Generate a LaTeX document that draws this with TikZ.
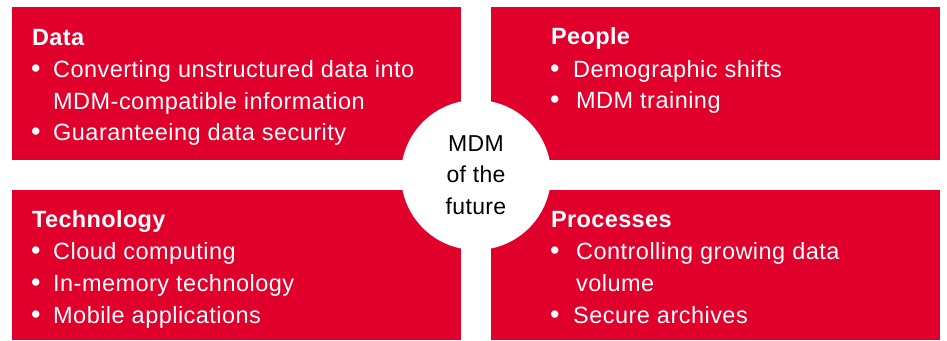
\documentclass[tikz,border=0pt]{standalone}
\usepackage{fontspec}
\setmainfont{Liberation Sans}
\definecolor{mdmred}{RGB}{224,0,43}

\tikzset{
  quad/.style={fill=mdmred},
  hub/.style={circle, fill=white, minimum size=150pt, inner sep=0pt,
    align=center, font=\fontsize{23}{31.5}\selectfont\addfontfeature{LetterSpace=1.5}},
  head/.style={anchor=base west, inner sep=0pt, text=white,
    font=\fontsize{23.5}{26}\selectfont\bfseries\addfontfeature{LetterSpace=1.5}},
  entry/.style={anchor=base west, inner sep=0pt, text=white,
    font=\fontsize{23.5}{26}\selectfont\addfontfeature{LetterSpace=2}},
  dot/.style={anchor=base west, inner sep=0pt, text=white,
    font=\fontsize{27}{30}\selectfont}
}

\begin{document}
\begin{tikzpicture}[x=1pt,y=-1pt]

    \useasboundingbox (0,0) rectangle (947,340);

    % Quadrants
    \fill[quad] (12,7) rectangle (461,160);
    \fill[quad] (491,7) rectangle (940,160);
    \fill[quad] (12,190) rectangle (461,340);
    \fill[quad] (491,190) rectangle (940,340);

    % Centre
    \node[hub] (hub) at (476,175) {MDM\\of the\\future};

    % Data
    \node[head] (data) at (32,45) {Data};
    \node[dot] (data-b1) at (31,77) {\textbullet};
    \node[entry] (data-1) at (53,77) {Converting unstructured data into};
    \node[entry] (data-1a) at (53,109) {MDM-compatible information};
    \node[dot] (data-b2) at (31,140) {\textbullet};
    \node[entry] (data-2) at (53,140) {Guaranteeing data security};

    % People
    \node[head] (people) at (551,44) {People};
    \node[dot] (people-b1) at (550,77) {\textbullet};
    \node[entry] (people-1) at (573,77) {Demographic shifts};
    \node[dot] (people-b2) at (550,108) {\textbullet};
    \node[entry] (people-2) at (576,108) {MDM training};

    % Technology
    \node[head] (tech) at (32,227) {Technology};
    \node[dot] (tech-b1) at (31,259) {\textbullet};
    \node[entry] (tech-1) at (53,259) {Cloud computing};
    \node[dot] (tech-b2) at (31,291) {\textbullet};
    \node[entry] (tech-2) at (53,291) {In-memory technology};
    \node[dot] (tech-b3) at (31,323) {\textbullet};
    \node[entry] (tech-3) at (53,323) {Mobile applications};

    % Processes
    \node[head] (proc) at (551,227) {Processes};
    \node[dot] (proc-b1) at (550,259) {\textbullet};
    \node[entry] (proc-1) at (576,259) {Controlling growing data};
    \node[entry] (proc-1a) at (576,291) {volume};
    \node[dot] (proc-b2) at (550,323) {\textbullet};
    \node[entry] (proc-2) at (573,323) {Secure archives};

\end{tikzpicture}
\end{document}
